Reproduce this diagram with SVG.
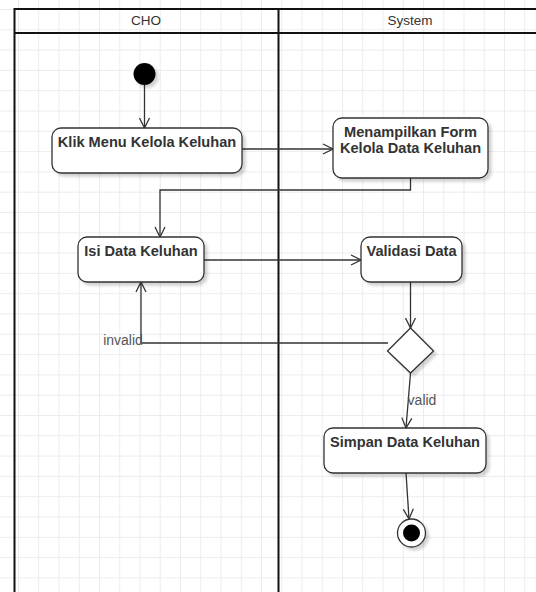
<svg xmlns="http://www.w3.org/2000/svg" width="536" height="592" viewBox="0 0 536 592">
<defs>
<pattern id="grid" width="20.25" height="20.3" patternUnits="userSpaceOnUse" x="18" y="9">
<path d="M0 0.5H20.25M0.5 0V20.3" fill="none" stroke="#ececec" stroke-width="1"/>
</pattern>
<filter id="sh" x="-20%" y="-20%" width="150%" height="150%">
<feGaussianBlur in="SourceAlpha" stdDeviation="1.5"/>
<feOffset dx="3" dy="3" result="b"/>
<feComponentTransfer><feFuncA type="linear" slope="0.18"/></feComponentTransfer>
<feMerge><feMergeNode/><feMergeNode in="SourceGraphic"/></feMerge>
</filter>
<marker id="arr" viewBox="0 0 12 12" refX="11" refY="6" markerWidth="12" markerHeight="12" markerUnits="userSpaceOnUse" orient="auto">
<path d="M1 1L11 6L1 11" fill="none" stroke="#333" stroke-width="1.3"/>
</marker>
<style>
.box{fill:#fff;stroke:#333;stroke-width:1.3}
.lbl{font-family:"Liberation Sans",Arial,sans-serif;font-size:14.6px;font-weight:bold;fill:#333;text-anchor:middle}
.hdr{font-family:"Liberation Sans",Arial,sans-serif;font-size:13.5px;fill:#333;text-anchor:middle}
.el{font-family:"Liberation Sans",Arial,sans-serif;font-size:14px;fill:#555;text-anchor:middle}
.lane{fill:none;stroke:#111;stroke-width:2}
.c{fill:none;stroke:#333;stroke-width:1.3}
</style>
</defs>
<rect width="536" height="592" fill="#fff"/>
<rect width="536" height="592" fill="url(#grid)"/>
<g id="lanes">
<rect x="14.5" y="9" width="540" height="600" fill="none" class="lane"/>
<line x1="14.5" y1="33" x2="550" y2="33" class="lane"/>
<line x1="278.5" y1="9" x2="278.5" y2="600" class="lane"/>
<text x="146" y="25" class="hdr">CHO</text>
<text x="410" y="25" class="hdr">System</text>
</g>
<g id="connectors">
<line x1="144.5" y1="85" x2="144.5" y2="128" class="c" marker-end="url(#arr)"/>
<line x1="242" y1="149" x2="333" y2="149" class="c" marker-end="url(#arr)"/>
<polyline points="410.5,178 410.5,190 160,190 160,237" class="c" marker-end="url(#arr)"/>
<line x1="204" y1="260" x2="361" y2="260" class="c" marker-end="url(#arr)"/>
<line x1="410.5" y1="282" x2="410.5" y2="328" class="c" marker-end="url(#arr)"/>
<polyline points="388,343 141,343 141,282" class="c" marker-end="url(#arr)"/>
<line x1="410.5" y1="373" x2="406" y2="428" class="c" marker-end="url(#arr)"/>
<line x1="406" y1="473" x2="409" y2="519" class="c" marker-end="url(#arr)"/>
<text x="123" y="345" class="el">invalid</text>
<text x="422" y="405" class="el">valid</text>
</g>
<g id="start">
<circle cx="144.5" cy="74" r="11" fill="#000" filter="url(#sh)"/>
</g>
<g id="klik">
<rect x="52" y="128" width="190" height="45" rx="9" class="box" filter="url(#sh)"/>
<text x="147" y="147" class="lbl">Klik Menu Kelola Keluhan</text>
</g>
<g id="menampilkan">
<rect x="333" y="118" width="155" height="60" rx="9" class="box" filter="url(#sh)"/>
<text x="410.5" y="137" class="lbl">Menampilkan Form</text>
<text x="410.5" y="152.5" class="lbl">Kelola Data Keluhan</text>
</g>
<g id="isi">
<rect x="78" y="237" width="126" height="45" rx="9" class="box" filter="url(#sh)"/>
<text x="141" y="256" class="lbl">Isi Data Keluhan</text>
</g>
<g id="validasi">
<rect x="361" y="237" width="101" height="45" rx="9" class="box" filter="url(#sh)"/>
<text x="411.5" y="256" class="lbl">Validasi Data</text>
</g>
<g id="decision">
<polygon points="410.5,328 433.5,351 410.5,373 387.5,351" class="box" filter="url(#sh)"/>
</g>
<g id="simpan">
<rect x="324" y="428" width="162" height="45" rx="9" class="box" filter="url(#sh)"/>
<text x="405" y="447" class="lbl">Simpan Data Keluhan</text>
</g>
<g id="end">
<circle cx="411.5" cy="533" r="14" fill="#fff" stroke="#333" stroke-width="1.3" filter="url(#sh)"/>
<circle cx="411.5" cy="533" r="8.5" fill="#000"/>
</g>
</svg>
